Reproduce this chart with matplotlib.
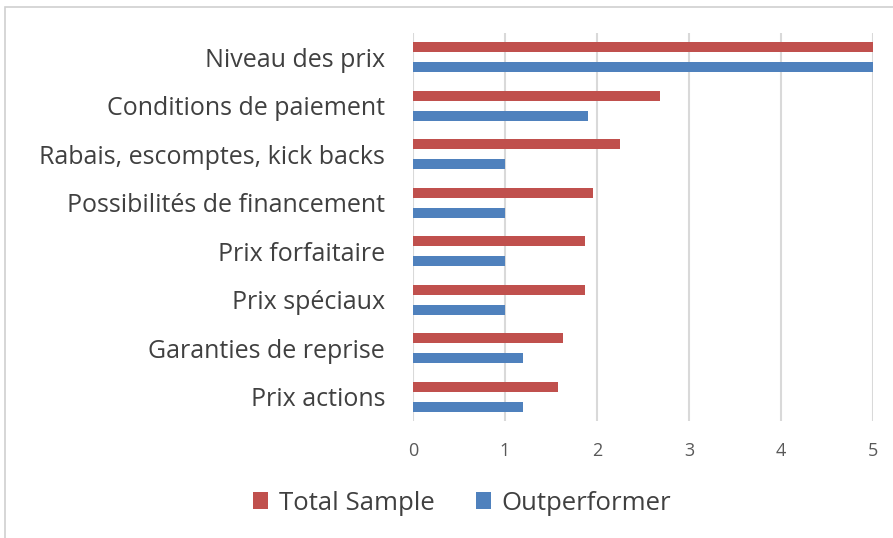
import matplotlib
matplotlib.use("Agg")
import matplotlib.pyplot as plt
import numpy as np
from matplotlib.patches import Rectangle

categories = ["Niveau des prix", "Conditions de paiement", "Rabais, escomptes, kick backs",
              "Possibilités de financement", "Prix forfaitaire", "Prix spéciaux",
              "Garanties de reprise", "Prix actions"]
total_sample = [5.0, 2.69, 2.25, 1.96, 1.87, 1.87, 1.63, 1.58]
outperformer = [5.0, 1.90, 1.00, 1.00, 1.00, 1.00, 1.20, 1.20]
xticks = [0, 1, 2, 3, 4, 5]

plt.rcParams['font.family'] = ['Open Sans', 'DejaVu Sans']
W, H = 893, 538
fig = plt.figure(figsize=(W/100, H/100), dpi=100)
ax = fig.add_axes([413/W, 1-421/H, (873-413)/W, (421-33)/H])

n = len(categories)
y = np.arange(n)[::-1]
red = "#c0504d"
blue = "#4f81bd"
bh = 0.21
off = 0.205
ax.barh(y + off, total_sample, height=bh, color=red, label="Total Sample", zorder=3)
ax.barh(y - off, outperformer, height=bh, color=blue, label="Outperformer", zorder=3)

ax.set_xlim(0, 5)
ax.set_ylim(-0.5, n - 0.5)
ax.set_xticks(xticks)
ax.set_xticklabels([str(t) for t in xticks], fontsize=13, color="#595959")
ax.set_yticks(y)
ax.set_yticklabels(categories, fontsize=18, color="#404040")
ax.tick_params(axis='both', length=0)
ax.tick_params(axis='x', pad=15)
ax.tick_params(axis='y', pad=20)
ax.grid(axis='x', color="#d9d9d9", linewidth=1.5, zorder=0)
for s in ax.spines.values():
    s.set_visible(False)

leg = fig.legend(loc='center', bbox_to_anchor=(462/W, 1-503/H), ncol=2, frameon=False,
                 fontsize=18.5, handlelength=0.6, handleheight=0.6, columnspacing=1.6,
                 handletextpad=0.4)
for t in leg.get_texts():
    t.set_color("#404040")

fig.patches.append(Rectangle((5/W, -0.1), 1.1, 1 - 7/H + 0.1, transform=fig.transFigure,
                             fill=False, edgecolor="#d0d0d0", linewidth=1.2))

fig.savefig("out.png", dpi=100)
